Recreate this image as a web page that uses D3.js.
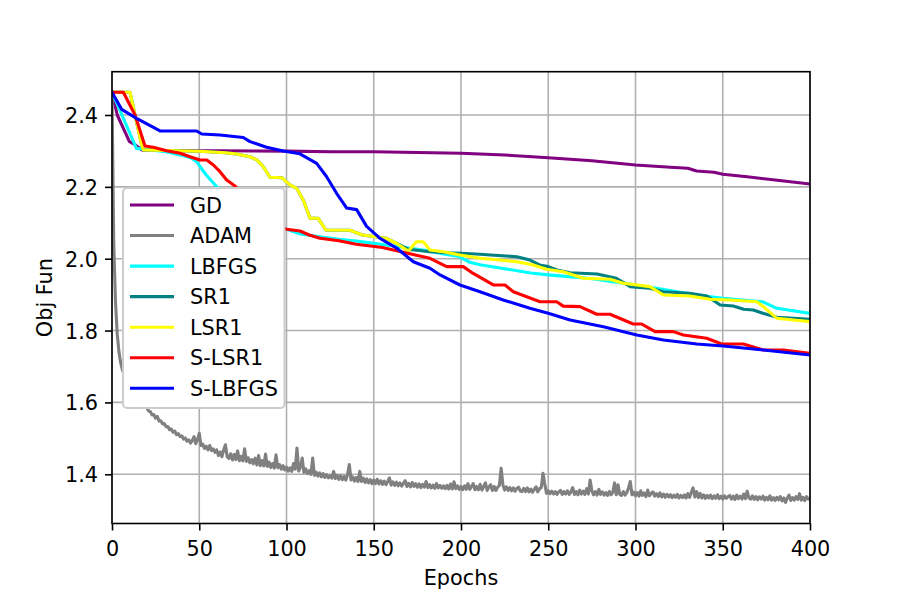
<!DOCTYPE html>
<html>
<head>
<meta charset="utf-8">
<script src="https://cdn.jsdelivr.net/npm/d3@7"></script>
<style>
  html, body { margin: 0; padding: 0; background: #fff; }
  svg { display: block; }
  text { font-family: "DejaVu Sans", sans-serif; fill: #000; }
</style>
</head>
<body>
<svg id="chart" width="900" height="600"></svg>
<script>
// ---------------- DATA ----------------
const seriesNames = ["GD", "ADAM", "LBFGS", "SR1", "LSR1", "S-LSR1", "S-LBFGS"];
const seriesColors = ["#800080", "#808080", "#00ffff", "#008080", "#ffff00", "#ff0000", "#0000ff"];
const xTickValues = [0, 50, 100, 150, 200, 250, 300, 350, 400];
const yTickValues = [1.4, 1.6, 1.8, 2.0, 2.2, 2.4];
const xLabel = "Epochs";
const yLabel = "Obj Fun";

const gdEpochs = [0, 3, 10, 13, 17, 30, 60, 100, 125, 150, 175, 200, 225, 250, 275, 300, 320, 330, 335, 345, 350, 364, 380, 400];
const gdValues = [2.4634, 2.40, 2.326, 2.318, 2.303, 2.3012, 2.3003, 2.2995, 2.2979, 2.2975, 2.2955, 2.2934, 2.2887, 2.2812, 2.2728, 2.2608, 2.2545, 2.2517, 2.2441, 2.2405, 2.235, 2.2283, 2.219, 2.208];

// ADAM: one value per epoch, 0..400
const adamValues = [
  2.4634, 2.04, 1.88, 1.79, 1.74, 1.71, 1.69, 1.678, 1.665, 1.655,
  1.645, 1.637, 1.628, 1.621, 1.614, 1.608, 1.603, 1.597, 1.592, 1.588,
  1.584, 1.576, 1.574, 1.565, 1.566, 1.556, 1.561, 1.548, 1.549, 1.540,
  1.541, 1.532, 1.533, 1.524, 1.526, 1.517, 1.520, 1.510, 1.513, 1.505,
  1.507, 1.498, 1.501, 1.492, 1.496, 1.487, 1.494, 1.505, 1.485, 1.497,
  1.514, 1.480, 1.484, 1.472, 1.478, 1.468, 1.480, 1.466, 1.471, 1.461,
  1.468, 1.452, 1.462, 1.449, 1.468, 1.482, 1.449, 1.444, 1.457, 1.440,
  1.455, 1.441, 1.465, 1.438, 1.450, 1.437, 1.471, 1.436, 1.446, 1.432,
  1.441, 1.429, 1.445, 1.426, 1.452, 1.424, 1.438, 1.423, 1.456, 1.422,
  1.434, 1.419, 1.430, 1.417, 1.454, 1.418, 1.427, 1.414, 1.424, 1.412,
  1.420, 1.409, 1.418, 1.408, 1.430, 1.414, 1.473, 1.409, 1.420, 1.445,
  1.405, 1.415, 1.402, 1.410, 1.400, 1.445, 1.397, 1.406, 1.395, 1.404,
  1.393, 1.402, 1.391, 1.399, 1.390, 1.396, 1.389, 1.408, 1.388, 1.397,
  1.386, 1.396, 1.385, 1.394, 1.384, 1.399, 1.427, 1.384, 1.393, 1.381,
  1.391, 1.380, 1.408, 1.380, 1.389, 1.377, 1.387, 1.376, 1.385, 1.374,
  1.384, 1.374, 1.386, 1.373, 1.382, 1.372, 1.381, 1.371, 1.380, 1.390,
  1.370, 1.379, 1.369, 1.378, 1.368, 1.376, 1.367, 1.375, 1.382, 1.366,
  1.375, 1.365, 1.377, 1.366, 1.374, 1.364, 1.373, 1.363, 1.372, 1.364,
  1.380, 1.363, 1.371, 1.362, 1.370, 1.361, 1.374, 1.362, 1.369, 1.361,
  1.368, 1.360, 1.369, 1.359, 1.373, 1.359, 1.379, 1.360, 1.368, 1.358,
  1.366, 1.357, 1.368, 1.358, 1.374, 1.358, 1.366, 1.374, 1.357, 1.366,
  1.357, 1.372, 1.356, 1.366, 1.376, 1.355, 1.365, 1.371, 1.355, 1.366,
  1.355, 1.364, 1.369, 1.417, 1.371, 1.356, 1.365, 1.355, 1.363, 1.354,
  1.362, 1.353, 1.361, 1.364, 1.353, 1.352, 1.361, 1.352, 1.362, 1.351,
  1.359, 1.350, 1.358, 1.365, 1.351, 1.360, 1.363, 1.403, 1.373, 1.347,
  1.354, 1.346, 1.353, 1.345, 1.352, 1.344, 1.351, 1.355, 1.344, 1.352,
  1.345, 1.354, 1.344, 1.351, 1.363, 1.344, 1.352, 1.343, 1.356, 1.345,
  1.353, 1.344, 1.360, 1.345, 1.384, 1.354, 1.343, 1.352, 1.342, 1.358,
  1.344, 1.351, 1.342, 1.349, 1.341, 1.352, 1.343, 1.350, 1.376, 1.343,
  1.371, 1.344, 1.341, 1.352, 1.342, 1.349, 1.362, 1.380, 1.343, 1.350,
  1.340, 1.349, 1.339, 1.354, 1.341, 1.348, 1.338, 1.356, 1.340, 1.347,
  1.351, 1.339, 1.346, 1.338, 1.348, 1.337, 1.345, 1.336, 1.344, 1.337,
  1.343, 1.335, 1.342, 1.336, 1.344, 1.334, 1.341, 1.335, 1.343, 1.334,
  1.346, 1.336, 1.350, 1.362, 1.337, 1.352, 1.335, 1.347, 1.334, 1.343,
  1.333, 1.341, 1.334, 1.342, 1.332, 1.340, 1.333, 1.343, 1.332, 1.339,
  1.331, 1.340, 1.333, 1.338, 1.341, 1.331, 1.339, 1.330, 1.342, 1.332,
  1.339, 1.331, 1.345, 1.332, 1.353, 1.334, 1.331, 1.340, 1.330, 1.338,
  1.329, 1.337, 1.331, 1.339, 1.328, 1.336, 1.329, 1.340, 1.328, 1.335,
  1.327, 1.336, 1.329, 1.338, 1.326, 1.334, 1.322, 1.334, 1.342, 1.327,
  1.335, 1.328, 1.338, 1.330, 1.346, 1.328, 1.336, 1.327, 1.338, 1.331,
  1.333];
const adamEpochs = adamValues.map((v, i) => i);

const lbfgsEpochs = [0, 14, 22, 31, 39, 45, 48.5, 50.5, 54, 60, 70, 80, 90, 100, 108, 119, 130, 140, 150, 160, 171, 180, 190, 199, 205, 211, 224, 240, 250, 274, 293, 312, 335, 350, 373, 381, 400];
const lbfgsValues = [2.4634, 2.307, 2.3026, 2.298, 2.289, 2.281, 2.27, 2.256, 2.233, 2.2005, 2.165, 2.13, 2.10, 2.082, 2.069, 2.061, 2.054, 2.049, 2.043, 2.036, 2.029, 2.023, 2.013, 2.006, 1.99, 1.983, 1.973, 1.96, 1.955, 1.945, 1.932, 1.918, 1.899, 1.89, 1.880, 1.862, 1.848];

const sr1Epochs = [0, 10.3, 17, 18, 31, 50, 65, 72, 79, 83, 86.7, 90.5, 97.3, 102, 105.8, 109.6, 113.5, 118.2, 122.5, 136.4, 143.5, 150, 157, 163, 170, 176, 182, 192, 200, 211, 217, 232, 239.5, 245, 250, 255, 262.5, 278, 289, 297, 308, 316, 331, 341, 348.5, 356, 362, 367.5, 373, 381, 400];
const sr1Values = [2.4634, 2.4634, 2.3165, 2.303, 2.301, 2.299, 2.295, 2.291, 2.284, 2.275, 2.256, 2.2266, 2.2255, 2.2052, 2.196, 2.1634, 2.1125, 2.1125, 2.08, 2.079, 2.066, 2.062, 2.057, 2.043, 2.026, 2.023, 2.0196, 2.0165, 2.015, 2.0125, 2.0103, 2.0056, 1.9964, 1.9825, 1.978, 1.9686, 1.9611, 1.9575, 1.9455, 1.9222, 1.9177, 1.9082, 1.9038, 1.8962, 1.8712, 1.8684, 1.8592, 1.8573, 1.8481, 1.837, 1.8314];

const lsr1Epochs = [0, 10.3, 17, 18, 31, 50, 65, 72, 79, 83, 86.7, 90.5, 97.3, 102, 105.8, 109.6, 113.5, 118.2, 122.5, 136.4, 143.5, 150, 157, 163, 169.8, 174.4, 178.4, 182.2, 190, 199.4, 211, 222, 232, 241.4, 249, 258.6, 270, 285.4, 293, 308.3, 316, 331.2, 342.7, 354.2, 369.5, 373.3, 381, 390.5, 400];
const lsr1Values = [2.4634, 2.4634, 2.3165, 2.303, 2.301, 2.299, 2.295, 2.291, 2.284, 2.275, 2.256, 2.2266, 2.2255, 2.2052, 2.196, 2.1634, 2.1125, 2.1125, 2.08, 2.079, 2.066, 2.062, 2.057, 2.043, 2.021, 2.047, 2.047, 2.0243, 2.0196, 2.0103, 2.0011, 1.9964, 1.9917, 1.9825, 1.9705, 1.9636, 1.9455, 1.9427, 1.9316, 1.9222, 1.899, 1.8962, 1.887, 1.8851, 1.8804, 1.8665, 1.8341, 1.8294, 1.8248];

const slsr1Epochs = [0, 6.5, 13.2, 18.9, 23.7, 31.3, 39, 44.7, 50.4, 54.3, 58.1, 61.9, 65.7, 70.5, 80, 90, 100, 107.7, 113, 119.2, 130, 140, 155, 165, 182.2, 191.8, 201.3, 207, 218.5, 225.2, 230, 245.3, 254.8, 258.6, 268.2, 277.8, 285.4, 298.7, 303.5, 311.2, 321.7, 327.4, 340.8, 349.4, 361.8, 373.3, 384.8, 400];
const slsr1Values = [2.4634, 2.4634, 2.40, 2.3137, 2.31, 2.3007, 2.2934, 2.284, 2.2748, 2.2748, 2.2608, 2.2422, 2.219, 2.2024, 2.15, 2.11, 2.0818, 2.0772, 2.066, 2.057, 2.05, 2.04, 2.031, 2.02, 2.001, 1.978, 1.978, 1.959, 1.927, 1.927, 1.908, 1.8804, 1.8804, 1.868, 1.8665, 1.8454, 1.8454, 1.8183, 1.8183, 1.797, 1.797, 1.7877, 1.7785, 1.7627, 1.7627, 1.746, 1.746, 1.7368];

const slbfgsEpochs = [0, 5.5, 14.1, 27.5, 48.5, 51.4, 61.9, 75.2, 79.1, 84.8, 88.6, 98.2, 107.7, 117.3, 123, 128.7, 134.5, 140.2, 145.9, 153.6, 163.2, 172.7, 182.2, 188, 199.4, 210.9, 224.2, 239.5, 250, 262.5, 281.6, 300.7, 316, 335.1, 350.3, 373.3, 400];
const slbfgsValues = [2.4634, 2.4158, 2.3908, 2.3555, 2.3555, 2.347, 2.3443, 2.3375, 2.3258, 2.3165, 2.31, 2.300, 2.292, 2.2655, 2.228, 2.182, 2.141, 2.1366, 2.090, 2.0568, 2.029, 1.9917, 1.9733, 1.9547, 1.9268, 1.9082, 1.8851, 1.862, 1.848, 1.8294, 1.8108, 1.7877, 1.7738, 1.7627, 1.7571, 1.746, 1.7321];

const seriesEpochs = [gdEpochs, adamEpochs, lbfgsEpochs, sr1Epochs, lsr1Epochs, slsr1Epochs, slbfgsEpochs];
const seriesValues = [gdValues, adamValues, lbfgsValues, sr1Values, lsr1Values, slsr1Values, slbfgsValues];

// ---------------- LAYOUT ----------------
const W = 900, H = 600;
const plot = { left: 112, right: 810, top: 71.7, bottom: 523.5 };
const FONT = 20.8;
const LW = 3.1;
const GRIDW = 1.6;

const svg = d3.select("#chart");
svg.append("rect").attr("width", W).attr("height", H).attr("fill", "#fff");

const x = d3.scaleLinear().domain([0, 400]).range([plot.left, plot.right]);
const y = d3.scaleLinear().domain([1.263, 2.5205]).range([plot.bottom, plot.top]);

// grid
const grid = svg.append("g");
grid.selectAll("line.gx").data(xTickValues).enter().append("line")
  .attr("x1", d => x(d)).attr("x2", d => x(d))
  .attr("y1", plot.top).attr("y2", plot.bottom)
  .attr("stroke", "#b0b0b0").attr("stroke-width", GRIDW);
grid.selectAll("line.gy").data(yTickValues).enter().append("line")
  .attr("y1", d => y(d)).attr("y2", d => y(d))
  .attr("x1", plot.left).attr("x2", plot.right)
  .attr("stroke", "#b0b0b0").attr("stroke-width", GRIDW);

// clip
svg.append("clipPath").attr("id", "clip").append("rect")
  .attr("x", plot.left).attr("y", plot.top)
  .attr("width", plot.right - plot.left).attr("height", plot.bottom - plot.top);

const lineGen = d3.line().x(d => x(d[0])).y(d => y(d[1]));
const linesG = svg.append("g").attr("clip-path", "url(#clip)");
seriesNames.forEach((name, i) => {
  const pts = seriesEpochs[i].map((e, k) => [e, seriesValues[i][k]]);
  linesG.append("path").datum(pts)
    .attr("d", lineGen)
    .attr("fill", "none")
    .attr("stroke", seriesColors[i])
    .attr("stroke-width", LW)
    .attr("stroke-linejoin", "round")
    .attr("stroke-linecap", "square");
});

// axes
const xAxis = d3.axisBottom(x).tickValues(xTickValues).tickFormat(d3.format("d")).tickSizeOuter(0).tickSize(7).tickPadding(7);
const yAxis = d3.axisLeft(y).tickValues(yTickValues).tickFormat(d3.format(".1f")).tickSizeOuter(0).tickSize(7).tickPadding(7);

const gx = svg.append("g").attr("transform", `translate(0,${plot.bottom})`).call(xAxis);
const gy = svg.append("g").attr("transform", `translate(${plot.left},0)`).call(yAxis);
[gx, gy].forEach(g => {
  g.select(".domain").remove();
  g.selectAll(".tick line").attr("stroke", "#000").attr("stroke-width", GRIDW);
  g.selectAll(".tick text").attr("font-family", "DejaVu Sans").attr("font-size", FONT).attr("fill", "#000");
});
gx.selectAll(".tick text").attr("dy", null).attr("y", 32.5);
gy.selectAll(".tick text").attr("dy", "0.36em");

// frame
svg.append("rect")
  .attr("x", plot.left).attr("y", plot.top)
  .attr("width", plot.right - plot.left).attr("height", plot.bottom - plot.top)
  .attr("fill", "none").attr("stroke", "#000").attr("stroke-width", GRIDW);

// labels
svg.append("text").attr("x", (plot.left + plot.right) / 2).attr("y", 585)
  .attr("text-anchor", "middle").attr("font-size", FONT).text(xLabel);
svg.append("text").attr("transform", `translate(52,${(plot.top + plot.bottom) / 2}) rotate(-90)`)
  .attr("text-anchor", "middle").attr("font-size", FONT).text(yLabel);

// legend
const leg = { x: 123, y: 188, w: 161.5, h: 220, row0: 205, rowStep: 30.55 };
const lg = svg.append("g");
lg.append("rect").attr("x", leg.x).attr("y", leg.y).attr("width", leg.w).attr("height", leg.h)
  .attr("rx", 4).attr("ry", 4)
  .attr("fill", "#fff").attr("stroke", "#cccccc").attr("stroke-width", 2);
seriesNames.forEach((name, i) => {
  const cy = leg.row0 + i * leg.rowStep;
  lg.append("line").attr("x1", 130).attr("x2", 174).attr("y1", cy).attr("y2", cy)
    .attr("stroke", seriesColors[i]).attr("stroke-width", LW);
  lg.append("text").attr("x", 190).attr("y", cy + 7.6).attr("font-size", FONT).text(name);
});
</script>
</body>
</html>
